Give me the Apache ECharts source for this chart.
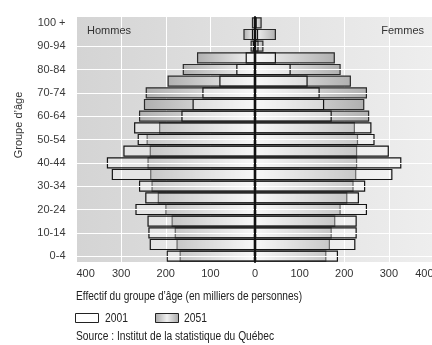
<!DOCTYPE html>
<html>
<head>
<meta charset="utf-8">
<script src="https://cdn.jsdelivr.net/npm/echarts@6/dist/echarts.min.js"></script>
<style>
html,body{margin:0;padding:0;background:#fff;}
#chart{width:432px;height:345px;}
</style>
</head>
<body>
<div id="chart"></div>
<script>
// Age groups, bottom to top
const ageGroups = ['0-4','5-9','10-14','15-19','20-24','25-29','30-34','35-39','40-44','45-49','50-54','55-59','60-64','65-69','70-74','75-79','80-84','85-89','90-94','95-99','100 +'];
// Thousands of persons (bottom to top)
const men2001   = [198,236,239,241,268,246,260,321,332,295,263,271,165,140,118,80,42,21,5,7,2];
const men2051   = [169,176,180,187,201,218,232,235,241,236,243,215,260,249,245,196,162,130,10,26,7];
const women2001 = [186,225,228,228,251,233,247,308,328,300,268,261,172,155,145,118,80,47,8,7,4];
const women2051 = [160,168,172,180,192,207,221,227,229,229,231,224,256,245,251,215,192,179,19,47,15];
const gridRows  = ['0-4','10-14','20-24','30-34','40-44','50-54','60-64','70-74','80-84','90-94'];
const xTicks = {min:-400, max:400, step:100};
const legendNames = ['2001','2051'];

const SANS = '"Liberation Sans",Arial,sans-serif';

function fitScale(text, size, target){
  const c = document.createElement('canvas').getContext('2d');
  c.font = size + 'px "Liberation Sans"';
  return target / c.measureText(text).width;
}
function narrowText(text, x, y, size, target){
  return {type:'text', z:100, x:x, y:y, scaleX:fitScale(text,size,target), scaleY:1,
    style:{text:text, fontSize:size, fontFamily:SANS, fill:'#222', align:'left', verticalAlign:'middle'}};
}

const chart = echarts.init(document.getElementById('chart'), null, {renderer:'canvas'});

function grad(outerLeft){
  return new echarts.graphic.LinearGradient(0,0,1,0, outerLeft ? [
    {offset:0,color:'#b0b0b0'},{offset:1,color:'#f4f4f4'}
  ] : [
    {offset:0,color:'#f4f4f4'},{offset:1,color:'#b0b0b0'}
  ]);
}
const w2001 = 'rgba(255,255,255,0.3)';
const barCommon = {type:'bar', barGap:'-100%', barCategoryGap:'4%', silent:true};

const xlabel = 'Effectif du groupe d\u2019âge (en milliers de personnes)';
const source = 'Source : Institut de la statistique du Québec';

const option = {
  animation:false,
  grid:{left:76.5, width:357, top:17, bottom:83, show:true, borderWidth:0,
    outerBoundsMode:'none', containLabel:false,
    backgroundColor:new echarts.graphic.LinearGradient(0,0,1,0,[
      {offset:0,color:'#d4d4d4'},{offset:1,color:'#eeeeee'}])},
  xAxis:{type:'value', min:xTicks.min, max:xTicks.max, interval:xTicks.step,
    axisLine:{show:false}, axisTick:{show:false},
    splitLine:{show:true, lineStyle:{color:'#ffffff', width:1}},
    axisLabel:{formatter:v=>String(Math.abs(v)), color:'#333', fontSize:11, fontFamily:SANS, margin:6,
      alignMinLabel:'left', alignMaxLabel:'right'}},
  yAxis:{type:'category', data:ageGroups, z:6,
    axisLine:{show:true, onZero:true, lineStyle:{color:'#111', width:2}},
    axisTick:{show:false}, splitLine:{show:false},
    axisLabel:{interval:1, color:'#3a3a3a', fontSize:11, fontFamily:SANS, margin:11}},
  series:[
    {type:'line', data:[], z:1, silent:true,
      markLine:{silent:true, symbol:'none', label:{show:false},
        lineStyle:{color:'#ffffff', width:1, type:'solid'},
        data:gridRows.map(r=>({yAxis:r}))}},
    Object.assign({}, barCommon, {name:'2051', z:2, data:men2051.map(v=>-v),
      itemStyle:{color:grad(true), borderColor:'#2a2a2a', borderWidth:1.2}}),
    Object.assign({}, barCommon, {name:'2051', z:2, data:women2051,
      itemStyle:{color:grad(false), borderColor:'#2a2a2a', borderWidth:1.2}}),
    Object.assign({}, barCommon, {name:'2001', z:3, data:men2001.map(v=>-v),
      itemStyle:{color:w2001, borderColor:'#151515', borderWidth:1.2}}),
    Object.assign({}, barCommon, {name:'2001', z:3, data:women2001,
      itemStyle:{color:w2001, borderColor:'#151515', borderWidth:1.2}})
  ],
  graphic:[
    {type:'text', z:100, left:87, top:25, style:{text:'Hommes', fontSize:11, fontFamily:SANS, fill:'#333'}},
    {type:'text', z:100, right:8, top:25, style:{text:'Femmes', fontSize:11, fontFamily:SANS, fill:'#333'}},
    {type:'text', z:100, x:19, y:125, rotation:Math.PI/2,
      style:{text:'Groupe d\u2019âge', fontSize:11, fontFamily:SANS, fill:'#333', align:'center', verticalAlign:'middle'}},
    narrowText(xlabel, 76, 296, 13, 226),
    // legend
    {type:'rect', z:100, shape:{x:75.5, y:313.5, width:23, height:9},
      style:{fill:'#ffffff', stroke:'#222', lineWidth:1}},
    narrowText(legendNames[0], 105, 318.5, 13, 23),
    {type:'rect', z:100, shape:{x:155.5, y:313.5, width:23, height:9},
      style:{fill:new echarts.graphic.LinearGradient(0,0,1,0,[
        {offset:0,color:'#a8a8a8'},{offset:0.5,color:'#f0f0f0'},{offset:1,color:'#a8a8a8'}]),
        stroke:'#222', lineWidth:1}},
    narrowText(legendNames[1], 184, 318.5, 13, 23),
    narrowText(source, 76, 337, 12.5, 198)
  ]
};
chart.setOption(option);
</script>
</body>
</html>
